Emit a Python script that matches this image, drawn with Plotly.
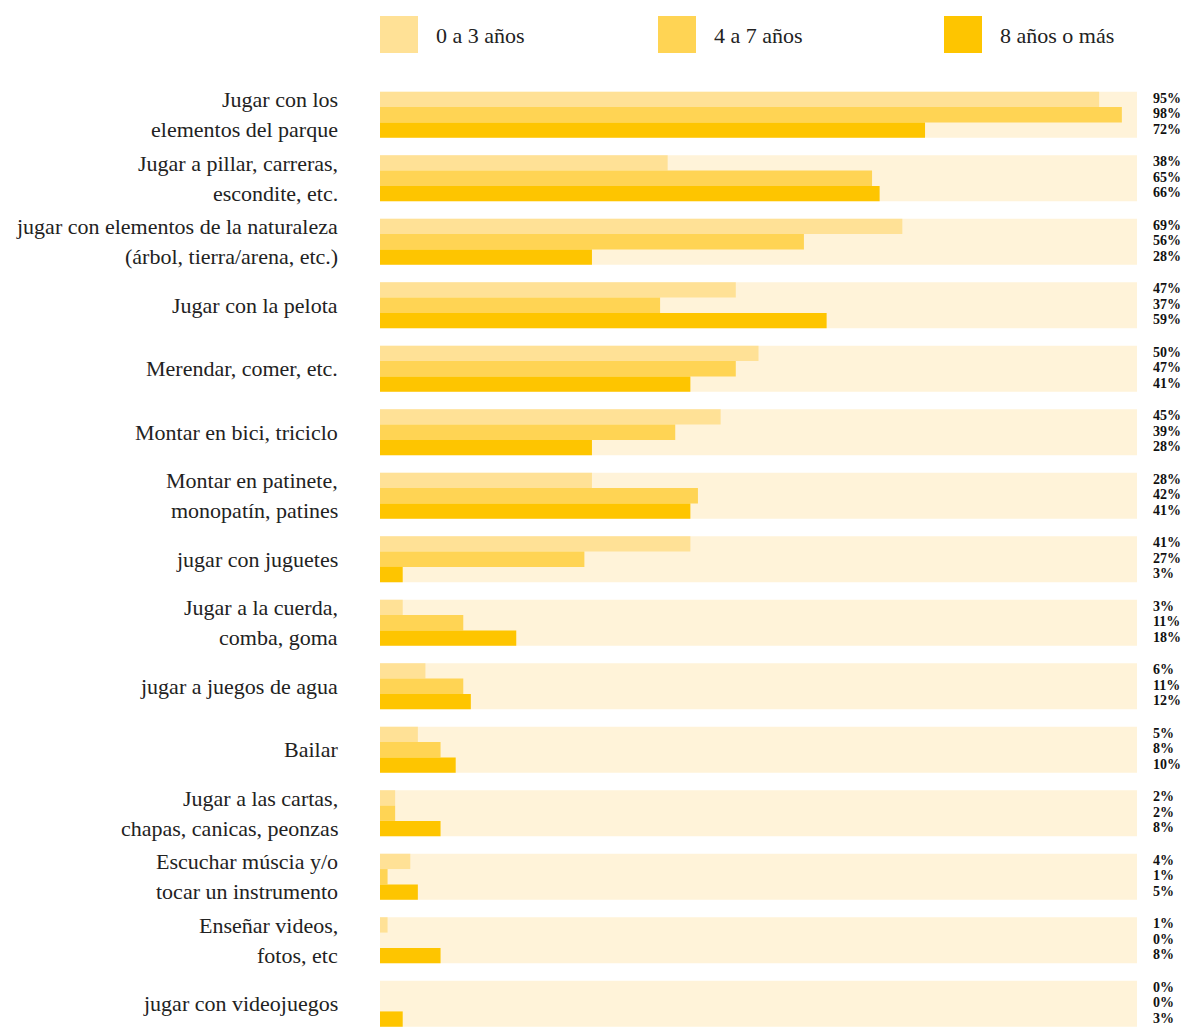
import plotly.graph_objects as go

# --- data -------------------------------------------------------------
categories = [
    "Jugar con los<br>elementos del parque",
    "Jugar a pillar, carreras,<br>escondite, etc.",
    "jugar con elementos de la naturaleza<br>(árbol, tierra/arena, etc.)",
    "Jugar con la pelota",
    "Merendar, comer, etc.",
    "Montar en bici, triciclo",
    "Montar en patinete,<br>monopatín, patines",
    "jugar con juguetes",
    "Jugar a la cuerda,<br>comba, goma",
    "jugar a juegos de agua",
    "Bailar",
    "Jugar a las cartas,<br>chapas, canicas, peonzas",
    "Escuchar múscia y/o<br>tocar un instrumento",
    "Enseñar videos,<br>fotos, etc",
    "jugar con videojuegos",
]
series_names = ["0 a 3 años", "4 a 7 años", "8 años o más"]
age_0_3 = [95, 38, 69, 47, 50, 45, 28, 41, 3, 6, 5, 2, 4, 1, 0]
age_4_7 = [98, 65, 56, 37, 47, 39, 42, 27, 11, 11, 8, 2, 1, 0, 0]
age_8_plus = [72, 66, 28, 59, 41, 28, 41, 3, 18, 12, 10, 8, 5, 8, 3]
totals = [100] * len(categories)

colors = ["#FFE196", "#FFD454", "#FEC500"]
bg_color = "#FFF3D9"
font_family = "Liberation Serif, Times New Roman, serif"

# the page puts the figure 8px in from the top-left corner
OFF = 8
W, H = 1189 - 2 * OFF, 1027 - OFF
L, R, T, B = 380 - OFF, W - (1137 - OFF), 83 - OFF, 0
pitch = 63.5
band = 46 / pitch
sub = band / 3

ys = list(range(len(categories)))
fig = go.Figure()

# background bar (100%)
fig.add_trace(go.Bar(
    x=totals, y=ys, orientation="h", width=band,
    marker=dict(color=bg_color, line=dict(width=0)),
    hoverinfo="skip", showlegend=False,
))

all_series = [age_0_3, age_4_7, age_8_plus]
for k, (name, vals) in enumerate(zip(series_names, all_series)):
    fig.add_trace(go.Bar(
        x=vals, y=ys, orientation="h", name=name,
        width=sub, offset=-band / 2 + k * sub,
        marker=dict(color=colors[k], line=dict(width=0)),
        showlegend=False,
    ))

plot_h = H - T - B
plot_w = W - L - R

def py(p):
    # screen pixel row -> paper y
    return (H - (p - OFF)) / plot_h

def px_(p):
    # screen pixel column -> paper x
    return (p - OFF - L) / plot_w

annotations = []
# category labels, two-line labels spaced like the original
for i, label in enumerate(categories):
    lines = label.split("<br>")
    n = len(lines)
    for j, line in enumerate(lines):
        annotations.append(dict(
            x=0, xref="paper", y=i, yref="y", text=line,
            xanchor="right", yanchor="middle", xshift=-40,
            yshift=(n - 1) / 2 * 30 - j * 30,
            showarrow=False,
            font=dict(family=font_family, size=22, color="#222"),
        ))

# value labels at the right
for k, vals in enumerate(all_series):
    for i, v in enumerate(vals):
        annotations.append(dict(
            x=px_(1151), xref="paper", y=i - band / 2 + sub / 2 + k * sub, yref="y",
            text=f"<b>{v}%</b>", xanchor="left", yanchor="middle", yshift=1,
            showarrow=False,
            font=dict(family=font_family, size=14, color="#111"),
        ))

# legend drawn by hand
shapes = []
legend_x = [380, 658, 944]
for k, name in enumerate(series_names):
    shapes.append(dict(
        type="rect", xref="paper", yref="paper",
        x0=px_(legend_x[k]), x1=px_(legend_x[k] + 38),
        y0=py(53), y1=py(16),
        fillcolor=colors[k], line=dict(width=0),
    ))
    annotations.append(dict(
        x=px_(legend_x[k] + 54), xref="paper", y=py(36), yref="paper",
        text=name, xanchor="left", yanchor="middle", showarrow=False,
        font=dict(family=font_family, size=22, color="#222"),
    ))

fig.update_layout(
    width=W, height=H,
    margin=dict(l=L, r=R, t=T, b=B),
    barmode="overlay",
    plot_bgcolor="white", paper_bgcolor="white",
    xaxis=dict(range=[0, 100], visible=False, fixedrange=True),
    yaxis=dict(range=[-0.5 + plot_h / pitch, -0.5], visible=False, fixedrange=True),
    annotations=annotations,
    shapes=shapes,
    showlegend=False,
    font=dict(family=font_family),
)

fig.write_html("out.html")
